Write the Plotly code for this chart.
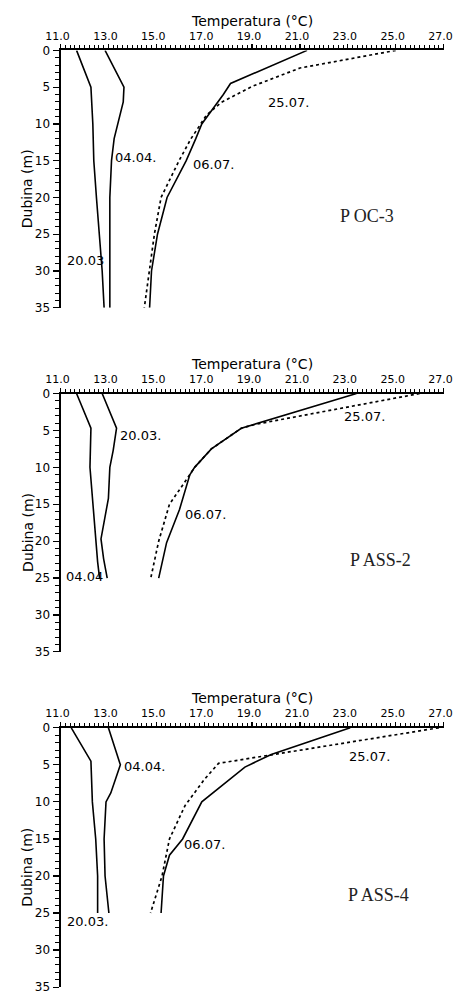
import plotly.graph_objects as go

# ---------------- data (temperature in °C vs depth in m) ----------------
# Panel 1: P OC-3
p1_d_2003 = [0, 5, 10, 15, 20, 25, 30, 35]
p1_t_2003 = [11.67, 12.27, 12.35, 12.39, 12.5, 12.62, 12.74, 12.82]
p1_d_0404 = [0, 3, 5, 7, 10, 12, 15, 20, 25, 30, 35]
p1_t_0404 = [12.86, 13.34, 13.65, 13.62, 13.38, 13.24, 13.13, 13.06, 13.06, 13.06, 13.06]
p1_d_0607 = [0, 4.5, 6, 8, 10, 12, 15, 20, 25, 30, 35]
p1_t_0607 = [21.3, 18.1, 17.8, 17.35, 16.9, 16.65, 16.25, 15.45, 15.05, 14.8, 14.72]
p1_d_2507 = [0, 2.4, 4.9, 7.1, 8.8, 10, 12, 15, 20, 25, 30, 35]
p1_t_2507 = [25.0, 21.0, 19.0, 17.7, 17.1, 16.85, 16.45, 15.95, 15.2, 14.92, 14.7, 14.5]

# Panel 2: P ASS-2
p2_d_0404 = [0, 4.7, 10, 15, 20, 22.8, 25]
p2_t_0404 = [11.67, 12.27, 12.23, 12.35, 12.47, 12.55, 12.63]
p2_d_2003 = [0, 4.7, 7.7, 10, 14.2, 16.5, 19.7, 22.4, 25]
p2_t_2003 = [12.74, 13.34, 13.2, 13.06, 13.0, 12.86, 12.69, 12.8, 12.95]
p2_d_0607 = [0, 4.7, 7.5, 10, 11, 15.7, 20.2, 25]
p2_t_0607 = [23.36, 18.55, 17.3, 16.6, 16.4, 15.97, 15.43, 15.1]
p2_d_2507 = [0, 4.2, 4.7, 7.5, 10, 11, 15, 20, 25]
p2_t_2507 = [26.0, 19.1, 18.55, 17.3, 16.6, 16.4, 15.55, 15.1, 14.77]

# Panel 3: P ASS-4
p3_d_2003 = [0, 4.5, 10, 15, 20, 25]
p3_t_2003 = [11.45, 12.27, 12.33, 12.47, 12.55, 12.55]
p3_d_0404 = [0, 5, 8.8, 10, 15, 20, 25]
p3_t_0404 = [13.0, 13.5, 13.1, 12.9, 12.82, 12.86, 13.02]
p3_d_0607 = [0, 2.3, 3.6, 5.3, 6.6, 8.5, 10, 15, 17.2, 20, 25]
p3_t_0607 = [23.1, 21.0, 19.8, 18.7, 18.2, 17.5, 16.9, 16.1, 15.55, 15.3, 15.2]
p3_d_2507 = [0, 3.6, 4.8, 7, 10.5, 15, 20, 25]
p3_t_2507 = [26.8, 19.8, 17.6, 17.0, 16.2, 15.55, 15.24, 14.76]

x_ticks = [11, 13, 15, 17, 19, 21, 23, 25, 27]
y_ticks = [0, 5, 10, 15, 20, 25, 30, 35]

x_title = "Temperatura (°C)"
y_title = "Dubina (m)"
station_names = ["P OC-3", "P ASS-2", "P ASS-4"]
# date labels: (text, temperature, depth) per panel
date_labels = [
    [("25.07.", 19.6, 7.1), ("04.04.", 13.18, 14.6), ("06.07.", 16.47, 15.5), ("20.03", 11.2, 28.6)],
    [("20.03.", 13.38, 5.7), ("25.07.", 22.76, 3.1), ("06.07.", 16.1, 16.4), ("04.04", 11.16, 24.8)],
    [("04.04.", 13.57, 5.2), ("25.07.", 22.96, 3.9), ("06.07.", 16.07, 15.8), ("20.03.", 11.2, 26.2)],
]
station_pos = [(23.8, 22.5), (24.35, 22.5), (24.3, 22.5)]

panels = [
    [(p1_t_2003, p1_d_2003, "solid"), (p1_t_0404, p1_d_0404, "solid"),
     (p1_t_0607, p1_d_0607, "solid"), (p1_t_2507, p1_d_2507, "dot")],
    [(p2_t_0404, p2_d_0404, "solid"), (p2_t_2003, p2_d_2003, "solid"),
     (p2_t_0607, p2_d_0607, "solid"), (p2_t_2507, p2_d_2507, "dot")],
    [(p3_t_2003, p3_d_2003, "solid"), (p3_t_0404, p3_d_0404, "solid"),
     (p3_t_0607, p3_d_0607, "solid"), (p3_t_2507, p3_d_2507, "dot")],
]

# ---------------- layout ----------------
W, H = 464, 1003
x_dom = [48 / W, 452 / W]
panel_px = [(44, 305), (392, 654), (731, 994)]
FONT = "DejaVu Sans"

fig = go.Figure()
layout = dict(
    width=W, height=H, margin=dict(l=0, r=0, t=0, b=0),
    paper_bgcolor="white", plot_bgcolor="white", showlegend=False,
    font=dict(family=FONT, color="black", size=12),
)
annotations = []

for i, series in enumerate(panels):
    n = i + 1
    xa = "x" if n == 1 else f"x{n}"
    ya = "y" if n == 1 else f"y{n}"
    for t, d, dash in series:
        fig.add_trace(go.Scatter(
            x=t, y=d, mode="lines", xaxis=xa, yaxis=ya,
            line=dict(color="black", width=1.6 if dash == "solid" else 1.7, dash=dash),
            hoverinfo="skip", cliponaxis=False,
        ))
    top, bot = panel_px[i]
    layout[f"xaxis{'' if n == 1 else n}"] = dict(
        domain=x_dom, anchor=ya, side="top", range=[11, 27],
        tickvals=x_ticks, ticktext=[f"{v:.1f}" for v in x_ticks],
        ticks="outside", ticklen=4, tickwidth=1.2, tickcolor="black",
        ticklabeloverflow="allow", ticklabelshift=-3, ticklabelstandoff=0,
        minor=dict(dtick=0.2, tick0=11, ticks="outside", ticklen=3, tickwidth=1, tickcolor="black"),
        showline=True, linecolor="black", linewidth=2, showgrid=False, zeroline=False,
        tickfont=dict(family=FONT, size=11, color="black"),
    )
    layout[f"yaxis{'' if n == 1 else n}"] = dict(
        domain=[1 - bot / H, 1 - top / H], anchor=xa, range=[35, 0],
        tickvals=y_ticks, ticks="outside", ticklen=6, tickwidth=1.2, tickcolor="black",
        minor=dict(dtick=1, tick0=0, ticks="outside", ticklen=4, tickwidth=1, tickcolor="black"),
        showline=True, linecolor="black", linewidth=2, showgrid=False, zeroline=False,
        tickfont=dict(family=FONT, size=12, color="black"),
    )
    # axis titles placed in paper coordinates
    annotations.append(dict(
        text=x_title, x=250 / W, y=1 - (top - 30) / H, xref="paper", yref="paper",
        xanchor="center", yanchor="middle", showarrow=False,
        font=dict(family=FONT, size=14, color="black"),
    ))
    annotations.append(dict(
        text=y_title, x=13 / W, y=1 - ((top + bot) / 2 + 10) / H, xref="paper", yref="paper",
        xanchor="center", yanchor="middle", showarrow=False, textangle=-90,
        font=dict(family=FONT, size=14, color="black"),
    ))
    for txt, tx, dy in date_labels[i]:
        annotations.append(dict(
            text=txt, x=tx, y=dy, xref=xa, yref=ya, xanchor="left", yanchor="middle",
            showarrow=False, font=dict(family=FONT, size=13, color="black"),
        ))
    sx, sy = station_pos[i]
    annotations.append(dict(
        text=station_names[i], x=sx, y=sy, xref=xa, yref=ya, xanchor="center", yanchor="middle",
        showarrow=False, font=dict(family="Liberation Serif", size=18, color="#222"),
    ))

layout["annotations"] = annotations
fig.update_layout(**layout)
fig.write_html(
    "out.html",
    config={"displayModeBar": False, "staticPlot": True},
    post_script="document.body.style.margin='0';document.body.style.overflow='hidden';",
)
